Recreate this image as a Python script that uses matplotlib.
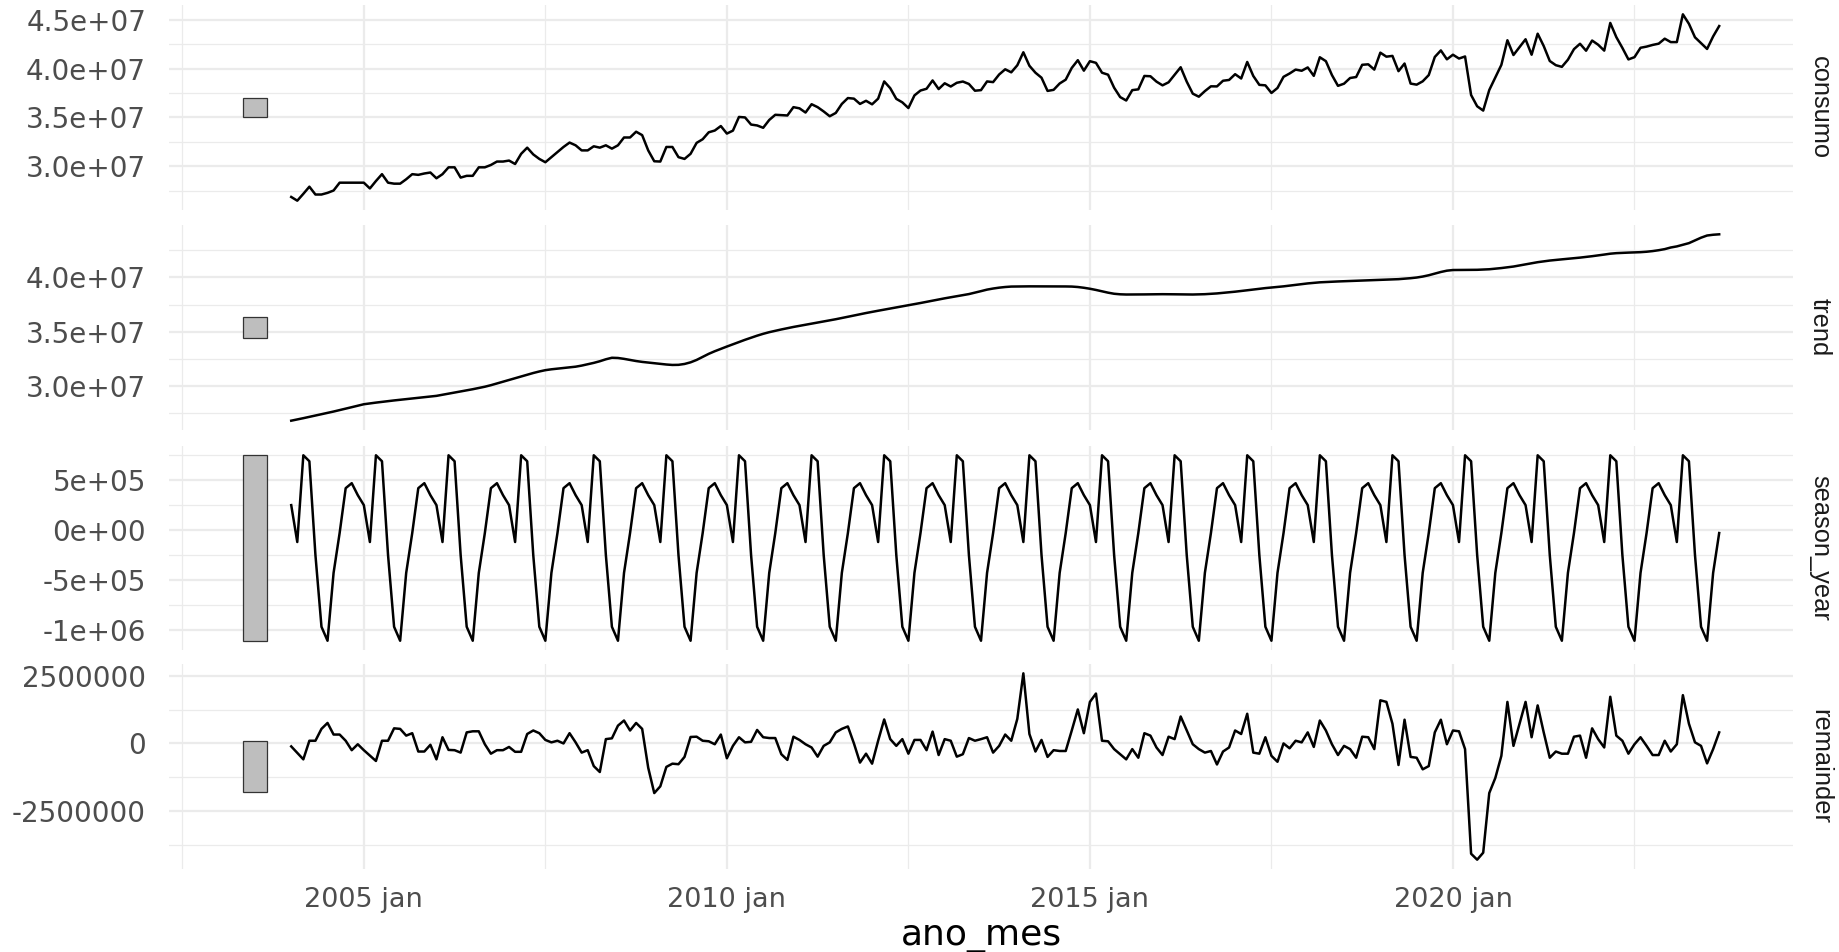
import numpy as np
import matplotlib
matplotlib.use("Agg")
import matplotlib.pyplot as plt
from matplotlib.patches import Rectangle

plt.rcParams['font.family'] = ['DejaVu Sans']

# ---------------- data (values in millions, monthly from 2004 jan) ----------------
start_year = 2004

consumo_mi = [
    26.87, 26.49, 27.19, 27.92, 27.12, 27.12, 27.29, 27.53, 28.33, 28.33, 28.33, 28.33,
    28.33, 27.74, 28.50, 29.20, 28.33, 28.23, 28.23, 28.68, 29.20, 29.13, 29.27, 29.37,
    28.78, 29.20, 29.90, 29.90, 28.85, 29.03, 29.03, 29.90, 29.90, 30.14, 30.49, 30.49,
    30.59, 30.24, 31.28, 31.91, 31.22, 30.76, 30.42, 30.94, 31.46, 31.98, 32.43, 32.15,
    31.63, 31.63, 32.05, 31.91, 32.15, 31.81, 32.15, 32.95, 32.95, 33.54, 33.19, 31.63,
    30.52, 30.49, 31.98, 31.98, 30.94, 30.76, 31.28, 32.40, 32.77, 33.48, 33.66, 34.12,
    33.35, 33.65, 35.05, 35.00, 34.27, 34.18, 33.94, 34.74, 35.27, 35.24, 35.20, 36.05,
    35.93, 35.50, 36.35, 36.05, 35.61, 35.12, 35.46, 36.38, 36.98, 36.92, 36.38, 36.70,
    36.34, 36.92, 38.68, 37.99, 36.90, 36.54, 35.96, 37.25, 37.75, 37.93, 38.78, 37.90,
    38.49, 38.16, 38.54, 38.67, 38.42, 37.73, 37.79, 38.68, 38.61, 39.39, 39.92, 39.61,
    40.33, 41.66, 40.28, 39.57, 39.06, 37.71, 37.82, 38.47, 38.86, 40.06, 40.85, 39.78,
    40.75, 40.58, 39.57, 39.37, 38.04, 37.08, 36.73, 37.79, 37.87, 39.24, 39.21, 38.66,
    38.28, 38.59, 39.36, 40.13, 38.66, 37.43, 37.12, 37.69, 38.18, 38.17, 38.75, 38.83,
    39.42, 38.98, 40.67, 39.24, 38.33, 38.28, 37.50, 38.01, 39.15, 39.49, 39.89, 39.77,
    40.11, 39.25, 41.15, 40.75, 39.33, 38.23, 38.45, 39.03, 39.13, 40.38, 40.43, 39.89,
    41.62, 41.21, 41.29, 39.73, 40.51, 38.46, 38.35, 38.69, 39.33, 41.18, 41.85, 40.94,
    41.41, 41.02, 41.23, 37.29, 36.14, 35.70, 37.80, 39.09, 40.37, 42.89, 41.38, 42.18,
    42.99, 41.41, 43.56, 42.30, 40.77, 40.34, 40.17, 40.90, 41.98, 42.53, 41.82, 42.86,
    42.43, 41.83, 44.66, 43.21, 42.11, 40.93, 41.16, 42.12, 42.24, 42.41, 42.54, 43.05,
    42.70, 42.70, 45.54, 44.57, 43.19, 42.59, 42.00, 43.28, 44.34,
]

trend_mi = [
    26.84, 26.95, 27.07, 27.19, 27.30, 27.42, 27.55, 27.68, 27.81, 27.95, 28.08, 28.22,
    28.35, 28.43, 28.50, 28.57, 28.64, 28.70, 28.76, 28.82, 28.88, 28.94, 29.00, 29.06,
    29.12, 29.22, 29.32, 29.42, 29.52, 29.62, 29.73, 29.84, 29.96, 30.10, 30.26, 30.42,
    30.58, 30.74, 30.90, 31.06, 31.22, 31.36, 31.48, 31.56, 31.62, 31.68, 31.74, 31.80,
    31.90, 32.02, 32.15, 32.30, 32.48, 32.62, 32.60, 32.52, 32.42, 32.32, 32.24, 32.18,
    32.12, 32.06, 32.00, 31.96, 31.97, 32.05, 32.20, 32.42, 32.70, 32.98, 33.22, 33.44,
    33.65, 33.86, 34.07, 34.27, 34.46, 34.65, 34.82, 34.97, 35.10, 35.22, 35.34, 35.45,
    35.55, 35.65, 35.75, 35.85, 35.95, 36.05, 36.16, 36.27, 36.38, 36.50, 36.62, 36.73,
    36.84, 36.94, 37.04, 37.14, 37.24, 37.35, 37.45, 37.55, 37.65, 37.76, 37.87, 37.98,
    38.08, 38.18, 38.28, 38.38, 38.47, 38.60, 38.74, 38.88, 38.98, 39.06, 39.12, 39.16,
    39.17, 39.18, 39.18, 39.18, 39.18, 39.18, 39.18, 39.18, 39.17, 39.16, 39.12, 39.05,
    38.96, 38.85, 38.72, 38.60, 38.50, 38.45, 38.43, 38.43, 38.43, 38.44, 38.45, 38.46,
    38.46, 38.46, 38.45, 38.44, 38.43, 38.43, 38.44, 38.46, 38.49, 38.53, 38.58, 38.63,
    38.69, 38.75, 38.82, 38.89, 38.96, 39.02, 39.07, 39.12, 39.18, 39.25, 39.32, 39.38,
    39.45, 39.50, 39.55, 39.58, 39.61, 39.63, 39.65, 39.67, 39.69, 39.71, 39.73, 39.75,
    39.77, 39.79, 39.81, 39.84, 39.88, 39.93, 39.99, 40.08, 40.20, 40.35, 40.50, 40.62,
    40.68, 40.69, 40.69, 40.69, 40.70, 40.72, 40.75, 40.80, 40.86, 40.93, 41.00, 41.10,
    41.20, 41.30, 41.40, 41.48, 41.55, 41.61, 41.66, 41.71, 41.76, 41.82, 41.88, 41.95,
    42.02, 42.10, 42.18, 42.23, 42.26, 42.28, 42.30, 42.32, 42.36, 42.42, 42.50, 42.60,
    42.75, 42.85, 43.00, 43.15, 43.40, 43.65, 43.85, 43.92, 43.96,
]

season_year_mi = [
    0.25, -0.12, 0.75, 0.69, -0.25, -0.97, -1.11, -0.43, -0.03, 0.42, 0.47, 0.35,
    0.25, -0.12, 0.75, 0.69, -0.25, -0.97, -1.11, -0.43, -0.03, 0.42, 0.47, 0.35,
    0.25, -0.12, 0.75, 0.69, -0.25, -0.97, -1.11, -0.43, -0.03, 0.42, 0.47, 0.35,
    0.25, -0.12, 0.75, 0.69, -0.25, -0.97, -1.11, -0.43, -0.03, 0.42, 0.47, 0.35,
    0.25, -0.12, 0.75, 0.69, -0.25, -0.97, -1.11, -0.43, -0.03, 0.42, 0.47, 0.35,
    0.25, -0.12, 0.75, 0.69, -0.25, -0.97, -1.11, -0.43, -0.03, 0.42, 0.47, 0.35,
    0.25, -0.12, 0.75, 0.69, -0.25, -0.97, -1.11, -0.43, -0.03, 0.42, 0.47, 0.35,
    0.25, -0.12, 0.75, 0.69, -0.25, -0.97, -1.11, -0.43, -0.03, 0.42, 0.47, 0.35,
    0.25, -0.12, 0.75, 0.69, -0.25, -0.97, -1.11, -0.43, -0.03, 0.42, 0.47, 0.35,
    0.25, -0.12, 0.75, 0.69, -0.25, -0.97, -1.11, -0.43, -0.03, 0.42, 0.47, 0.35,
    0.25, -0.12, 0.75, 0.69, -0.25, -0.97, -1.11, -0.43, -0.03, 0.42, 0.47, 0.35,
    0.25, -0.12, 0.75, 0.69, -0.25, -0.97, -1.11, -0.43, -0.03, 0.42, 0.47, 0.35,
    0.25, -0.12, 0.75, 0.69, -0.25, -0.97, -1.11, -0.43, -0.03, 0.42, 0.47, 0.35,
    0.25, -0.12, 0.75, 0.69, -0.25, -0.97, -1.11, -0.43, -0.03, 0.42, 0.47, 0.35,
    0.25, -0.12, 0.75, 0.69, -0.25, -0.97, -1.11, -0.43, -0.03, 0.42, 0.47, 0.35,
    0.25, -0.12, 0.75, 0.69, -0.25, -0.97, -1.11, -0.43, -0.03, 0.42, 0.47, 0.35,
    0.25, -0.12, 0.75, 0.69, -0.25, -0.97, -1.11, -0.43, -0.03, 0.42, 0.47, 0.35,
    0.25, -0.12, 0.75, 0.69, -0.25, -0.97, -1.11, -0.43, -0.03, 0.42, 0.47, 0.35,
    0.25, -0.12, 0.75, 0.69, -0.25, -0.97, -1.11, -0.43, -0.03, 0.42, 0.47, 0.35,
    0.25, -0.12, 0.75, 0.69, -0.25, -0.97, -1.11, -0.43, -0.03,
]

remainder_mi = [
    -0.11, -0.35, -0.59, 0.10, 0.10, 0.54, 0.76, 0.33, 0.33, 0.10, -0.25, -0.03,
    -0.25, -0.45, -0.65, 0.10, 0.10, 0.56, 0.54, 0.29, 0.38, -0.30, -0.30, -0.05,
    -0.59, 0.23, -0.24, -0.25, -0.34, 0.41, 0.45, 0.45, -0.03, -0.38, -0.25, -0.25,
    -0.13, -0.31, -0.31, 0.35, 0.48, 0.38, 0.13, 0.04, 0.10, 0.00, 0.38, 0.04,
    -0.34, -0.25, -0.84, -1.06, 0.16, 0.19, 0.66, 0.85, 0.48, 0.76, 0.54, -0.90,
    -1.84, -1.59, -0.87, -0.75, -0.77, -0.50, 0.24, 0.25, 0.10, 0.08, -0.03, 0.33,
    -0.55, -0.09, 0.23, 0.04, 0.06, 0.50, 0.23, 0.20, 0.20, -0.40, -0.61, 0.25,
    0.13, -0.03, -0.15, -0.49, -0.09, 0.04, 0.41, 0.54, 0.63, 0.00, -0.71, -0.38,
    -0.75, 0.10, 0.89, 0.16, -0.09, 0.16, -0.38, 0.13, 0.13, -0.25, 0.44, -0.43,
    0.16, 0.10, -0.49, -0.40, 0.20, 0.10, 0.16, 0.23, -0.34, -0.09, 0.33, 0.10,
    0.91, 2.60, 0.35, -0.30, 0.13, -0.50, -0.25, -0.28, -0.28, 0.48, 1.26, 0.38,
    1.54, 1.85, 0.10, 0.08, -0.21, -0.40, -0.59, -0.21, -0.53, 0.38, 0.29, -0.15,
    -0.43, 0.25, 0.16, 1.00, 0.48, -0.03, -0.21, -0.34, -0.28, -0.78, -0.30, -0.15,
    0.48, 0.35, 1.10, -0.34, -0.38, 0.23, -0.46, -0.68, 0.00, -0.18, 0.10, 0.04,
    0.41, -0.13, 0.85, 0.48, -0.03, -0.43, -0.09, -0.21, -0.53, 0.25, 0.23, -0.21,
    1.60, 1.54, 0.73, -0.80, 0.88, -0.50, -0.53, -0.96, -0.84, 0.41, 0.88, -0.03,
    0.48, 0.45, -0.21, -4.09, -4.31, -4.05, -1.84, -1.28, -0.46, 1.54, -0.09, 0.73,
    1.54, 0.23, 1.41, 0.41, -0.53, -0.30, -0.38, -0.38, 0.25, 0.29, -0.53, 0.56,
    0.16, -0.15, 1.73, 0.29, 0.10, -0.38, -0.03, 0.23, -0.09, -0.43, -0.43, 0.10,
    -0.30, -0.03, 1.79, 0.73, 0.04, -0.09, -0.74, -0.21, 0.41,
]

panel_names = ["consumo", "trend", "season_year", "remainder"]

x_tick_years = [2005, 2010, 2015, 2020]
x_tick_labels = ["2005 jan", "2010 jan", "2015 jan", "2020 jan"]
x_minor_years = [2002.5, 2007.5, 2012.5, 2017.5, 2022.5]

y_major = [
    [3.0e7, 3.5e7, 4.0e7, 4.5e7],
    [3.0e7, 3.5e7, 4.0e7],
    [-1e6, -5e5, 0, 5e5],
    [-2.5e6, 0, 2.5e6],
]
y_labels = [
    ["3.0e+07", "3.5e+07", "4.0e+07", "4.5e+07"],
    ["3.0e+07", "3.5e+07", "4.0e+07"],
    ["-1e+06", "-5e+05", "0e+00", "5e+05"],
    ["-2500000", "0", "2500000"],
]
y_minor = [
    [2.75e7, 3.25e7, 3.75e7, 4.25e7],
    [2.75e7, 3.25e7, 3.75e7, 4.25e7],
    [-7.5e5, -2.5e5, 2.5e5, 7.5e5],
    [-3.75e6, -1.25e6, 1.25e6],
]

# ---------------- figure ----------------
W, H = 1839, 952
fig = plt.figure(figsize=(W / 100, H / 100), dpi=100)

series = [np.array(s) * 1e6 for s in (consumo_mi, trend_mi, season_year_mi, remainder_mi)]
n = len(series[0])
x = start_year + np.arange(n) / 12.0

# range bars (same data length in every panel = smallest component range)
min_range = min(s.max() - s.min() for s in series)
bar_x0 = x[0] - 8 / 12.0
bar_w = 4 / 12.0

xlo, xhi = bar_x0, x[-1]
xpad = 0.05 * (xhi - xlo)

L, R = 169, 1793
panel_px = [(5, 210), (225, 430), (446, 650), (664, 869)]

grid_col = "#EBEBEB"
for k, (name, vals) in enumerate(zip(panel_names, series)):
    top, bot = panel_px[k]
    ax = fig.add_axes([L / W, 1 - bot / H, (R - L) / W, (bot - top) / H])
    for sp in ax.spines.values():
        sp.set_visible(False)
    ax.set_axisbelow(True)

    center = (vals.max() + vals.min()) / 2
    ax.add_patch(Rectangle((bar_x0, center - min_range / 2), bar_w, min_range,
                           facecolor="#BEBEBE", edgecolor="#333333", linewidth=0.9, zorder=2))
    ax.plot(x, vals, color="black", linewidth=1.8, zorder=3, solid_joinstyle="round")

    ylo = min(vals.min(), center - min_range / 2)
    yhi = max(vals.max(), center + min_range / 2)
    ypad = 0.05 * (yhi - ylo)
    ax.set_ylim(ylo - ypad, yhi + ypad)
    ax.set_xlim(xlo - xpad, xhi + xpad)

    ax.set_xticks(x_tick_years)
    ax.set_xticks(x_minor_years, minor=True)
    ax.set_yticks(y_major[k])
    ax.set_yticklabels(y_labels[k])
    ax.set_yticks(y_minor[k], minor=True)
    ax.grid(which="major", color=grid_col, linewidth=1.6)
    ax.grid(which="minor", color=grid_col, linewidth=0.9)
    ax.tick_params(which="both", length=0)
    ax.tick_params(axis="y", labelsize=20, labelcolor="#4D4D4D", pad=16.5)
    if k == 3:
        ax.set_xticklabels(x_tick_labels)
        ax.tick_params(axis="x", labelsize=19.5, labelcolor="#4D4D4D", pad=13.0)
    else:
        ax.tick_params(axis="x", labelbottom=False)

    ax.text(1.0166, 0.5, name, transform=ax.transAxes, rotation=270,
            ha="center", va="center", fontsize=18.3, color="#1A1A1A",
            family=["Liberation Sans", "DejaVu Sans"])

fig.text((L + R) / 2 / W, 1 - 945 / H, "ano_mes", ha="center", va="baseline",
         fontsize=26, color="black")

fig.savefig("out.png", dpi=100, facecolor="white")
